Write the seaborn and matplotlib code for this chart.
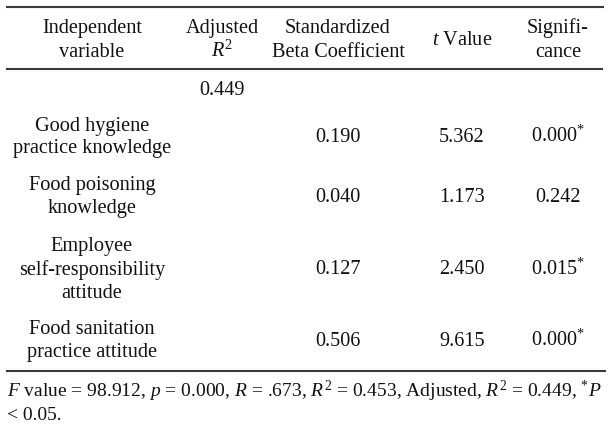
import matplotlib
matplotlib.use("Agg")
import matplotlib.pyplot as plt
import seaborn as sns

# ---- data ----
headers = ["Independent\nvariable", "Adjusted\n$R^2$", "Standardized\nBeta Coefficient",
           "$t$ Value", "Signifi-\ncance"]
adjusted_r2 = "0.449"
variables = ["Good hygiene\npractice knowledge",
             "Food poisoning\nknowledge",
             "Employee\nself-responsibility\nattitude",
             "Food sanitation\npractice attitude"]
beta = ["0.190", "0.040", "0.127", "0.506"]
t_values = ["5.362", "1.173", "2.450", "9.615"]
significance = ["0.000", "0.242", "0.015", "0.000"]
sig_flag = [True, False, True, True]
footnote = ["$F$ value = 98.912, $p$ = 0.000, $R$ = .673, $R^2$ = 0.453, Adjusted, $R^2$ = 0.449, $^{*}P$",
            "< 0.05."]

# ---- style ----
sns.set_theme(style="white")
plt.rcParams["font.family"] = ["Liberation Serif", "DejaVu Serif"]
plt.rcParams["mathtext.fontset"] = "custom"
plt.rcParams["mathtext.rm"] = "Liberation Serif"
plt.rcParams["mathtext.it"] = "Liberation Serif:italic"
plt.rcParams["mathtext.bf"] = "Liberation Serif:bold"

FS = 14.6
COLOR = "#111111"
LINE = "#3a3a3a"

fig = plt.figure(figsize=(6.14, 4.29), dpi=100)
fig.patch.set_facecolor("white")
ax = fig.add_axes([0, 0, 1, 1])
ax.set_xlim(0, 614)
ax.set_ylim(429, 0)
ax.axis("off")

col_x = [92, 222, 338, 462, 558]


def cell(x, yc, s, pitch=23.0, **kw):
    lines = s.split("\n")
    n = len(lines)
    for i, ln in enumerate(lines):
        y = yc + (i - (n - 1) / 2) * pitch
        ax.text(x, y, ln, ha="center", va="baseline", fontsize=FS, color=COLOR, **kw)


# rules
ax.hlines([7], 6, 604, color=LINE, lw=1.5)
ax.hlines([69], 6, 603, color=LINE, lw=1.5)
ax.hlines([370.5], 6, 606, color=LINE, lw=1.5)

# header
for x, h in zip(col_x, headers):
    cell(x, 45, h, pitch=24)

# adjusted R2 row
cell(col_x[1], 95, adjusted_r2)

# body rows
row_y = [142, 201.5, 274.5, 345.5]
for yc, var, b, t, s, f in zip(row_y, variables, beta, t_values, significance, sig_flag):
    cell(col_x[0], yc, var)
    cell(col_x[2], yc, b)
    cell(col_x[3], yc, t)
    cell(col_x[4], yc, s + ("$^{*}$" if f else ""))

# footnote (fit first line to the table width, as in the justified original)
f1 = ax.text(7, 397, footnote[0], ha="left", va="baseline", fontsize=FS, color=COLOR)
f2 = ax.text(7, 420, footnote[1], ha="left", va="baseline", fontsize=FS, color=COLOR)
fig.canvas.draw()
w = f1.get_window_extent(renderer=fig.canvas.get_renderer()).width
target = 593.0
if w > target:
    fs2 = FS * target / w
    f1.set_fontsize(fs2)
    f2.set_fontsize(fs2)

fig.savefig("out.png", dpi=100, facecolor="white")
